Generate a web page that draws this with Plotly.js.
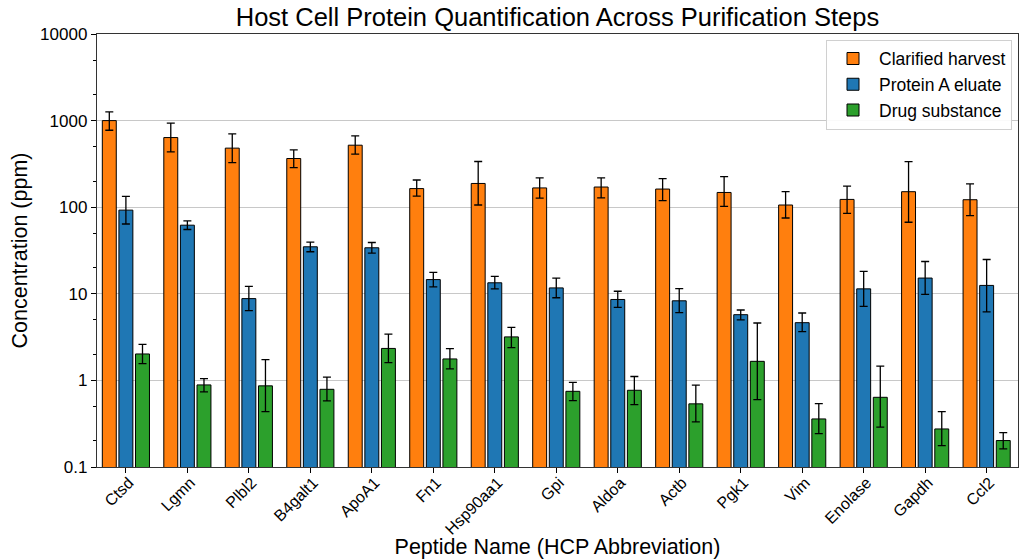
<!DOCTYPE html>
<html>
<head>
<meta charset="utf-8">
<script src="https://cdn.plot.ly/plotly-3.0.1.min.js"></script>
<style>html,body{margin:0;padding:0;background:#fff;}#chart{width:1024px;height:559px;}</style>
</head>
<body>
<div id="chart"></div>
<script>
const peptides = ["Ctsd","Lgmn","Plbl2","B4galt1","ApoA1","Fn1","Hsp90aa1","Gpi","Aldoa","Actb","Pgk1","Vim","Enolase","Gapdh","Ccl2"];

// Clarified harvest: bar value, upper and lower error-bar ends (ppm)
const harvest    = [1000, 637, 481, 365, 520, 164, 188, 167, 171, 162, 148, 106, 123, 151, 122];
const harvestHi  = [1260, 934, 703, 459, 667, 206, 337, 218, 218, 214, 226, 151, 175, 336, 186];
const harvestLo  = [774, 435, 328, 287, 409, 134, 106, 127, 128, 119, 102, 75, 85, 67, 80];

// Protein A eluate
const eluate     = [92.5, 62, 8.8, 34.9, 34, 14.6, 13.4, 11.7, 8.6, 8.3, 5.74, 4.64, 11.4, 15.2, 12.5];
const eluateHi   = [133, 69.7, 12.2, 39.6, 39.1, 17.7, 15.9, 15.2, 10.7, 11.5, 6.5, 6.0, 18.2, 23.6, 24.9];
const eluateLo   = [64, 55.3, 6.4, 30.6, 29.5, 12.0, 11.4, 9.0, 6.97, 6.05, 4.99, 3.66, 7.16, 9.85, 6.2];

// Drug substance
const substance   = [2.02, 0.887, 0.865, 0.789, 2.34, 1.77, 3.18, 0.748, 0.769, 0.536, 1.66, 0.359, 0.638, 0.275, 0.202];
const substanceHi = [2.61, 1.05, 1.74, 1.09, 3.43, 2.33, 4.10, 0.95, 1.11, 0.88, 4.60, 0.54, 1.46, 0.436, 0.250];
const substanceLo = [1.56, 0.736, 0.436, 0.579, 1.60, 1.36, 2.39, 0.585, 0.526, 0.332, 0.601, 0.243, 0.288, 0.177, 0.162];

const seriesNames = ["Clarified harvest", "Protein A eluate", "Drug substance"];
const seriesColors = ["#ff7f0e", "#1f77b4", "#2ca02c"];

function mkTrace(i, vals, hi, lo) {
  return {
    type: "bar",
    name: seriesNames[i],
    x: peptides,
    y: vals,
    marker: {color: seriesColors[i], line: {color: "#000", width: 1}},
    error_y: {
      type: "data",
      symmetric: false,
      array: vals.map((v, k) => hi[k] - v),
      arrayminus: vals.map((v, k) => v - lo[k]),
      color: "#000",
      thickness: 1.3,
      width: 4
    }
  };
}

const data = [
  mkTrace(0, harvest, harvestHi, harvestLo),
  mkTrace(1, eluate, eluateHi, eluateLo),
  mkTrace(2, substance, substanceHi, substanceLo)
];

const font = "Liberation Sans, Arial, sans-serif";

const layout = {
  width: 1024,
  height: 559,
  paper_bgcolor: "#fff",
  plot_bgcolor: "#fff",
  margin: {l: 97, r: 6, t: 34, b: 92},
  font: {family: font, color: "#000"},
  barmode: "group",
  bargap: 0.19,
  bargroupgap: 0.16,
  title: {
    text: "Host Cell Protein Quantification Across Purification Steps",
    font: {size: 25.5, family: font, color: "#000"},
    x: 0.5444, xanchor: "center", y: 0.969, yanchor: "middle"
  },
  xaxis: {
    type: "category",
    range: [-0.47, 14.51],
    tickangle: -45,
    tickfont: {size: 16},
    ticklabelstandoff: -6,
    ticklabelshift: 3,
    ticks: "outside", ticklen: 5, tickcolor: "#000",
    showline: true, linecolor: "#333", linewidth: 1.2, mirror: true,
    showgrid: false,
    automargin: false,
    title: {text: "Peptide Name (HCP Abbreviation)", font: {size: 21.5}, standoff: 2}
  },
  yaxis: {
    type: "log",
    range: [-1, 4],
    tickvals: [0.1, 1, 10, 100, 1000, 10000],
    ticktext: ["0.1", "1", "10", "100", "1000", "10000"],
    tickfont: {size: 17},
    ticks: "outside", ticklen: 5, tickcolor: "#000",
    minor: {ticks: "outside", ticklen: 3, tickcolor: "#000", showgrid: false},
    showline: true, linecolor: "#333", linewidth: 1.2, mirror: true,
    showgrid: true, gridcolor: "#c8c8c8", gridwidth: 1,
    zeroline: false,
    automargin: false,
    title: {text: "Concentration (ppm)", font: {size: 21.5}, standoff: 6}
  },
  legend: {
    x: 0.9935, xanchor: "right", y: 0.987, yanchor: "top",
    bgcolor: "rgba(255,255,255,0.9)", bordercolor: "#d0d0d0", borderwidth: 1,
    font: {size: 17.5}, tracegroupgap: 0, itemwidth: 42
  },
  showlegend: true
};

Plotly.newPlot("chart", data, layout, {displayModeBar: false, staticPlot: true});
</script>
</body>
</html>
